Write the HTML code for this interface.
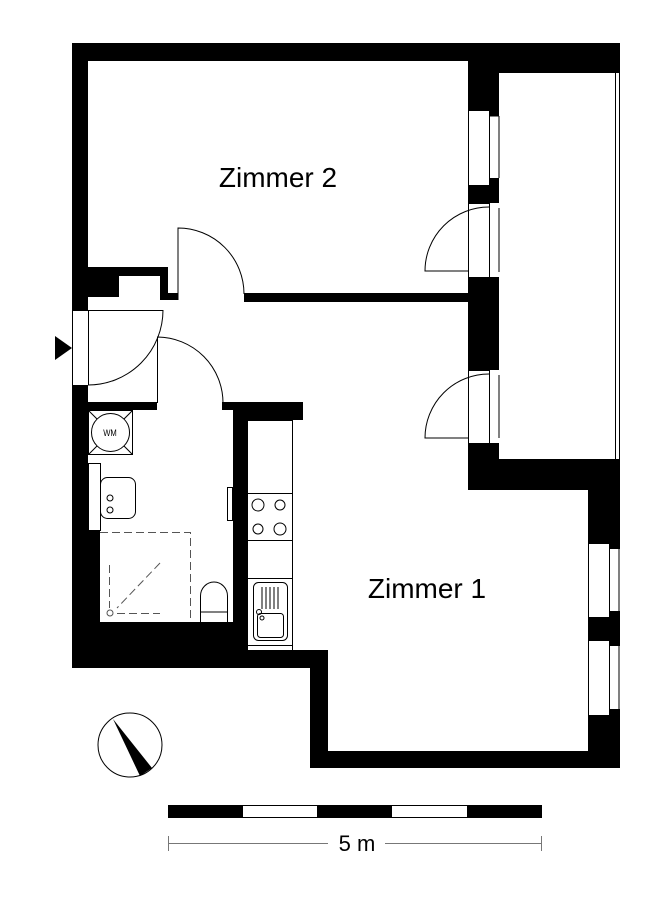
<!DOCTYPE html>
<html><head><meta charset="utf-8"><style>
html,body{margin:0;padding:0;background:#fff;width:672px;height:910px;overflow:hidden}
svg{display:block}
text{font-family:"Liberation Sans",sans-serif}
</style></head><body>
<svg width="672" height="910" viewBox="0 0 672 910" xmlns="http://www.w3.org/2000/svg">
<g fill="#000">
<rect x="72" y="43" width="548" height="18"/>
<rect x="499" y="43" width="121" height="30"/>
<rect x="72" y="43" width="16" height="267"/>
<rect x="72" y="385" width="16" height="283"/>
<rect x="88" y="267" width="80" height="9"/>
<rect x="88" y="267" width="31" height="30"/>
<rect x="160" y="267" width="8" height="33"/>
<rect x="160" y="293" width="18" height="7"/>
<rect x="244" y="293" width="224" height="9"/>
<rect x="468" y="61" width="31" height="49"/>
<rect x="468" y="185" width="31" height="18"/>
<rect x="468" y="277" width="31" height="93"/>
<rect x="468" y="443" width="31" height="16"/>
<rect x="489" y="110" width="10" height="6"/>
<rect x="489" y="178" width="10" height="7"/>
<rect x="468" y="459" width="152" height="31"/>
<rect x="588" y="490" width="32" height="53"/>
<rect x="588" y="617" width="32" height="23"/>
<rect x="588" y="715" width="32" height="53"/>
<rect x="609" y="543" width="11" height="6"/>
<rect x="609" y="611" width="11" height="6"/>
<rect x="609" y="640" width="11" height="6"/>
<rect x="609" y="709" width="11" height="6"/>
<rect x="310" y="751" width="310" height="17"/>
<rect x="310" y="650" width="18" height="118"/>
<rect x="72" y="650" width="256" height="18"/>
<rect x="72" y="622" width="175" height="28"/>
<rect x="72" y="530" width="28" height="92"/>
<rect x="88" y="402" width="69" height="8"/>
<rect x="222" y="402" width="81" height="8"/>
<rect x="233" y="410" width="70" height="10"/>
<rect x="233" y="420" width="14" height="202"/>
<polygon points="55,336 72,348 55,360"/>
</g>
<g fill="none" stroke="#000" stroke-width="1">
<rect x="468.5" y="110.5" width="21" height="75"/><line x1="489" y1="116" x2="499" y2="116"/><line x1="499" y1="116" x2="499" y2="178"/>
<rect x="468.5" y="203.5" width="21" height="74"/><line x1="499" y1="208" x2="499" y2="272"/>
<rect x="468.5" y="370.5" width="21" height="73"/><line x1="499" y1="375" x2="499" y2="438"/>
<rect x="588.5" y="543.5" width="21" height="74"/><line x1="619" y1="549" x2="619" y2="611"/>
<rect x="588.5" y="640.5" width="21" height="75"/><line x1="619" y1="646" x2="619" y2="709"/>
<line x1="615.5" y1="73" x2="615.5" y2="459"/><line x1="619.5" y1="73" x2="619.5" y2="459"/>
<path d="M489,207 A64,64 0 0 0 425,271 L468,271"/>
<path d="M489,374 A64,64 0 0 0 425,438 L468,438"/>
<path d="M178,300 L178,228 A66,66 0 0 1 244,294"/>
<line x1="72.5" y1="310" x2="72.5" y2="385"/>
<line x1="72" y1="310.5" x2="163" y2="310.5"/>
<path d="M163,310 A75,75 0 0 1 88,385"/>
<line x1="88.5" y1="310" x2="88.5" y2="385"/>
<path d="M157.5,403 L157.5,337 A66,66 0 0 1 223,403"/>
<rect x="88.5" y="410.5" width="44" height="44"/>
<circle cx="110.5" cy="432.5" r="19"/>
<line x1="89" y1="411" x2="97" y2="419"/><line x1="132" y1="411" x2="124" y2="419"/>
<line x1="89" y1="454" x2="97" y2="446"/><line x1="132" y1="454" x2="124" y2="446"/>
<rect x="88.5" y="463.5" width="12" height="67"/>
<rect x="100.5" y="477.5" width="35" height="41" rx="7"/>
<circle cx="110" cy="498" r="3"/><circle cx="110" cy="510" r="3"/>
<rect x="227.5" y="487.5" width="5" height="33"/>
<path d="M200.5,622 L200.5,596 A13.5,14 0 0 1 227.5,596 L227.5,622"/>
<line x1="200" y1="612" x2="228" y2="612"/>
<rect x="247.5" y="420.5" width="45" height="230"/>
<line x1="247" y1="493.5" x2="292" y2="493.5"/>
<line x1="247" y1="540.5" x2="292" y2="540.5"/>
<line x1="247" y1="578.5" x2="292" y2="578.5"/>
<line x1="247" y1="645.5" x2="292" y2="645.5"/>
<circle cx="258" cy="505" r="6"/><circle cx="280" cy="505" r="5"/>
<circle cx="258" cy="529" r="5"/><circle cx="280" cy="529" r="6"/>
<rect x="253.5" y="582.5" width="34" height="58" rx="5"/>
<rect x="257.5" y="613.5" width="26" height="24" rx="3"/>
<path d="M262,587v22M266,587v22M270,587v22M274,587v22M278,587v22"/>
<circle cx="259" cy="612" r="2.5"/><circle cx="262" cy="618" r="2"/>
<circle cx="130" cy="745" r="32"/>
</g>
<g fill="none" stroke="#555" stroke-width="1" stroke-dasharray="8,4">
<path d="M100,532.5 H190.5 V622"/>
<line x1="109.5" y1="565" x2="109.5" y2="608"/>
<line x1="117" y1="613.5" x2="160" y2="613.5"/>
<line x1="160" y1="563" x2="117" y2="608"/>
</g>
<circle cx="110" cy="613" r="3" fill="none" stroke="#555"/>
<text x="110" y="436" font-size="9" text-anchor="middle" transform="translate(110 0) scale(0.85 1) translate(-110 0)">WM</text>
<polygon points="113,719 152,768 140,776" fill="#000"/>
<rect x="168" y="805" width="374" height="13" fill="#000"/>
<rect x="243" y="806" width="74" height="11" fill="#fff"/>
<rect x="392" y="806" width="75" height="11" fill="#fff"/>
<g stroke="#777" stroke-width="1">
<line x1="168" y1="843.5" x2="328" y2="843.5"/>
<line x1="385" y1="843.5" x2="542" y2="843.5"/>
<line x1="168.5" y1="836" x2="168.5" y2="851"/>
<line x1="541.5" y1="836" x2="541.5" y2="851"/>
</g>
<text x="357" y="851" font-size="22" text-anchor="middle">5 m</text>
<text x="278" y="187" font-size="28" text-anchor="middle">Zimmer 2</text>
<text x="427" y="598" font-size="28" text-anchor="middle">Zimmer 1</text>
</svg>
</body></html>
